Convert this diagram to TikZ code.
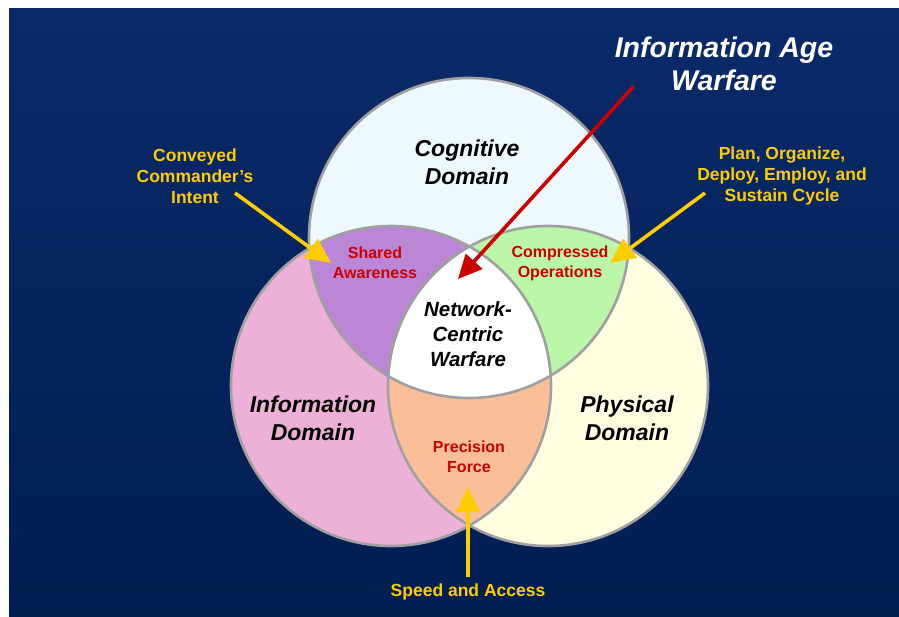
\documentclass[tikz,border=0pt]{standalone}
\usepackage{fontspec}
\setmainfont{Liberation Sans}
\usetikzlibrary{arrows.meta}
\definecolor{bgtop}{RGB}{10,42,106}
\definecolor{bgbot}{RGB}{0,30,80}
\definecolor{cogc}{RGB}{238,249,254}
\definecolor{infoc}{RGB}{237,176,216}
\definecolor{physc}{RGB}{255,254,224}
\definecolor{purc}{RGB}{188,134,214}
\definecolor{grnc}{RGB}{188,247,169}
\definecolor{pchc}{RGB}{250,191,152}
\definecolor{ringc}{RGB}{160,160,160}
\definecolor{yelc}{RGB}{255,204,0}
\definecolor{redc}{RGB}{204,0,0}
\begin{document}
\begin{tikzpicture}[x=1pt,y=-1pt,
  ring/.style={draw=ringc,line width=2.6pt},
  dom/.style={align=center,inner sep=0pt,font=\fontsize{23}{28}\selectfont\bfseries\itshape,text=black},
  ncwlabel/.style={align=center,inner sep=0pt,font=\fontsize{20.5}{25}\selectfont\bfseries\itshape,text=black},
  redlabel/.style={align=center,inner sep=0pt,font=\fontsize{16}{20}\selectfont\bfseries,text=redc},
  yellabel/.style={align=center,inner sep=0pt,font=\fontsize{17.5}{21}\selectfont\bfseries,text=yelc},
  titlelabel/.style={align=center,inner sep=0pt,font=\fontsize{28.5}{33}\selectfont\bfseries\itshape,text=white},
  yarrow/.style={draw=yelc,line width=3.6pt,-{Triangle[length=25pt,width=23pt]},fill=yelc},
  rarrow/.style={draw=redc,line width=3.6pt,-{Triangle[length=24pt,width=22pt]},fill=redc,line cap=round}
]
\useasboundingbox (0,0) rectangle (899,616);
\fill[white] (0,0) rectangle (899,616);
\shade[top color=bgtop,bottom color=bgbot] (9,8) rectangle (899,616);

% base circles
\fill[cogc] (469,238) circle[radius=160pt];
\fill[infoc] (391,386) circle[radius=160pt];
\fill[physc] (548,386) circle[radius=160pt];
% pairwise intersections
\begin{scope}
  \clip (469,238) circle[radius=160pt];
  \fill[purc] (391,386) circle[radius=160pt];
  \fill[grnc] (548,386) circle[radius=160pt];
\end{scope}
\begin{scope}
  \clip (391,386) circle[radius=160pt];
  \fill[pchc] (548,386) circle[radius=160pt];
\end{scope}
\begin{scope}
  \clip (469,238) circle[radius=160pt];
  \clip (391,386) circle[radius=160pt];
  \fill[white] (548,386) circle[radius=160pt];
\end{scope}
% outlines
\draw[ring] (469,238) circle[radius=160pt];
\draw[ring] (391,386) circle[radius=160pt];
\draw[ring] (548,386) circle[radius=160pt];

% domain labels
\node[dom] (cog) at (467,162) {Cognitive\\Domain};
\node[dom] (info) at (313,418) {Information\\Domain};
\node[dom] (phys) at (627,418) {Physical\\Domain};
\node[ncwlabel] (ncw) at (468,334) {Network-\\Centric\\Warfare};

% intersection labels
\node[redlabel] (sa) at (375,263) {Shared\\Awareness};
\node[redlabel] (co) at (560,263) {Compressed\\Operations};
\node[redlabel] (pf) at (469,457) {Precision\\Force};

% outer labels
\node[titlelabel] (iaw) at (724,64) {Information Age\\Warfare};
\node[yellabel] (cci) at (195,176) {Conveyed\\Commander's\\Intent};
\node[yellabel] (plan) at (782,176) {Plan, Organize,\\Deploy, Employ, and\\Sustain Cycle};
\node[yellabel] (spd) at (468,592) {Speed and Access};

% arrow end points
\coordinate (ciS) at (235,193);
\coordinate (ciE) at (331,263);
\coordinate (plS) at (705,193);
\coordinate (plE) at (610,263);
\coordinate (spS) at (468,577);
\coordinate (spE) at (468,487);
\coordinate (iaS) at (633,87);
\coordinate (iaE) at (458,279);

\draw[yarrow] (ciS) -- (ciE);
\draw[yarrow] (plS) -- (plE);
\draw[yarrow] (spS) -- (spE);
\draw[rarrow] (iaS) -- (iaE);
\end{tikzpicture}
\end{document}
